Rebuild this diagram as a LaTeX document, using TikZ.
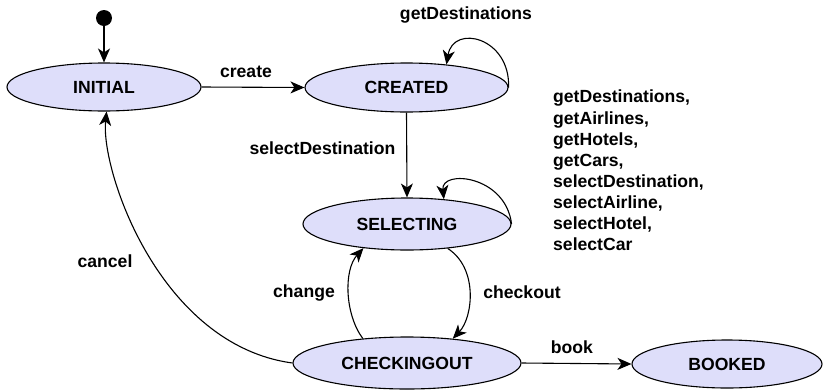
\documentclass[tikz,border=0pt]{standalone}
\usepackage{fontspec}
\setmainfont{Liberation Sans}
\usetikzlibrary{shapes.geometric,arrows.meta}
\definecolor{statefill}{RGB}{222,222,250}
\begin{document}
\begin{tikzpicture}[x=1pt,y=-1pt,
  font=\fontsize{17.6}{21.1}\selectfont\bfseries,
  state/.style={ellipse,draw=black,line width=1.1pt,fill=statefill,inner sep=0pt},
  trans/.style={line width=1.1pt,-{Stealth[length=14pt,width=12pt,inset=4pt]}},
  lbl/.style={inner sep=0pt,anchor=base}]
\useasboundingbox (0,0) rectangle (824,389);

% states
\node[circle,fill=black,minimum size=16pt,inner sep=0pt] (start) at (104,18) {};
\node[state,minimum width=194pt,minimum height=48pt] (initial) at (104,87) {INITIAL};
\node[state,minimum width=203pt,minimum height=49pt] (created) at (406.5,87.5) {CREATED};
\node[state,minimum width=208pt,minimum height=52pt] (selecting) at (407,224) {SELECTING};
\node[state,minimum width=228pt,minimum height=52pt] (checkingout) at (407,363) {CHECKINGOUT};
\node[state,minimum width=190pt,minimum height=48pt] (booked) at (727,364) {BOOKED};

% transitions
\draw[trans] (start) -- (initial.north);
\draw[trans] (initial.east) -- (created.west);
\draw[trans] (created.east) .. controls +(2,-50) and +(7,-41) .. (created.30);
\draw[trans] (created.south) -- (selecting.north);
\draw[trans] (selecting.east) .. controls +(-6,-49) and +(-3,-30) .. (selecting.34);
\draw[trans] (selecting.-31) .. controls +(31,20) and +(20,-21) .. (checkingout.28);
\draw[trans] (checkingout.151) .. controls +(-18,-24) and +(-20,22) .. (selecting.209);
\draw[trans] (checkingout.west) .. controls +(-133,-18) and +(-6,59) .. (initial.-84);
\draw[trans] (checkingout.east) -- (booked.west);

% labels
\node[lbl] (lcreate) at (246,77) {create};
\node[lbl] (lgetdest) at (466,19) {getDestinations};
\node[lbl] (lselect) at (322.5,154) {selectDestination};
\node[lbl] (lcancel) at (105,267) {cancel};
\node[lbl] (lchange) at (304,297) {change};
\node[lbl] (lcheckout) at (522,298) {checkout};
\node[lbl] (lbook) at (572,353) {book};
\node[inner sep=0pt,anchor=north west,align=left] (lselfs) at (553,90)
  {getDestinations,\\getAirlines,\\getHotels,\\getCars,\\selectDestination,\\selectAirline,\\selectHotel,\\selectCar};
\end{tikzpicture}
\end{document}
